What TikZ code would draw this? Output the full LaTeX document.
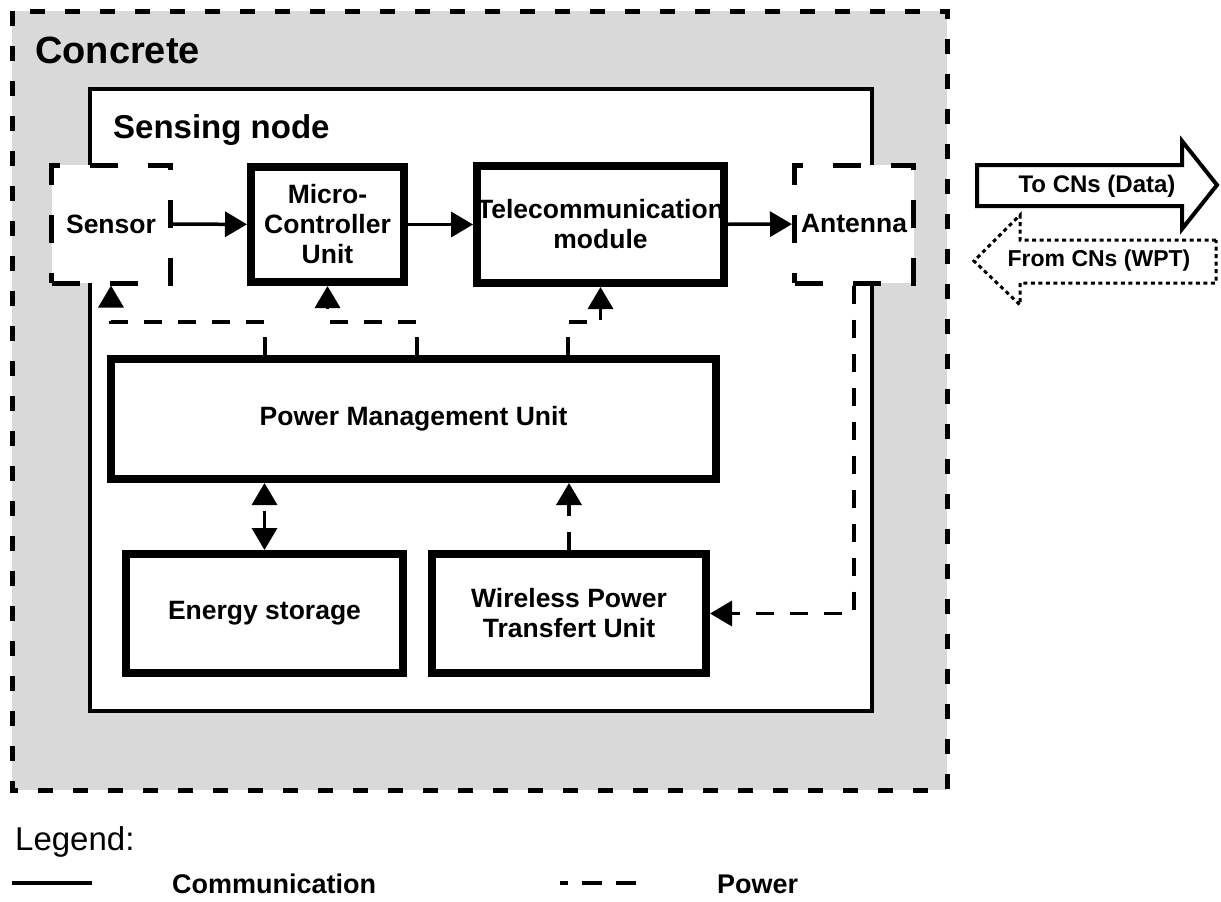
\documentclass[tikz,border=0pt]{standalone}
\usepackage{fontspec}
\setmainfont{Liberation Sans}
\usetikzlibrary{arrows.meta}
\definecolor{concrete}{RGB}{217,217,217}
\newcommand{\boxfont}{\fontsize{26.5}{30}\selectfont\bfseries}

\begin{document}
\begin{tikzpicture}[x=1pt,y=-1pt,
    >={Triangle[length=22pt,width=25pt]},
    unit/.style={draw,fill=white,line width=8pt,inner sep=0pt,align=center,font=\boxfont},
    port/.style={draw,fill=white,line width=5pt,dash pattern=on 28pt off 30pt,inner sep=0pt,
        minimum width=119pt,minimum height=118pt,font=\boxfont},
    comm/.style={line width=3.5pt},
    power/.style={line width=3.5pt,dash pattern=on 18pt off 16pt}]
    \useasboundingbox (0,0) rectangle (1221,902);

    % concrete and sensing node
    \draw [fill=concrete,line width=5pt,dash pattern=on 15pt off 20pt] (12,11) rectangle (947,790);
    \node [anchor=base west,inner sep=0pt,font=\fontsize{38}{38}\selectfont\bfseries] (concretetxt) at (35,63) {Concrete};
    \draw [fill=white,line width=4pt] (90,89) rectangle (872,711);
    \node [anchor=base west,inner sep=0pt,font=\fontsize{33}{33}\selectfont\bfseries] (nodetxt) at (113,138) {Sensing node};

    \node [port] (sensor)  at (111,224) {Sensor};
    \node [port] (antenna) at (854,224) {Antenna};
    \node [unit,minimum width=153pt,minimum height=115pt] (mcu)  at (327.5,224.5) {Micro-\\Controller\\Unit};
    \node [unit,minimum width=237pt,minimum height=117pt] (tele) at (600.5,224.5) {Telecommunication\\module};
    \draw [line width=8pt] ([shift={(4pt,-4pt)}]tele.north west) rectangle ([shift={(-4pt,4pt)}]tele.south east);
    \node [unit,minimum width=605pt,minimum height=120pt] (pmu)     at (413.5,419)   {Power Management Unit};
    \node [unit,minimum width=277pt,minimum height=119pt] (storage) at (264.5,613.5) {Energy storage};
    \node [unit,minimum width=274pt,minimum height=119pt] (wpt)     at (569,613.5)   {Wireless Power\\Transfert Unit};

    % data
    \draw [comm,->] (sensor) -- (mcu);
    \draw [comm,->] (mcu) -- (tele);
    \draw [comm,->] (tele) -- (antenna);

    % power
    \coordinate (bus) at (0,322);
    \draw [power,->] (265,0 |- pmu.north) |- (sensor.south |- bus) -- (sensor.south);
    \draw [power,->] (417,0 |- pmu.north) |- (mcu.south |- bus) -- (mcu.south);
    \draw [power,->] (568,0 |- pmu.north) |- (tele.south |- bus) -- (tele.south);
    \draw [power,<->] (storage.north) -- (storage.north |- pmu.south);
    \draw [power,->] (wpt.north) -- (wpt.north |- pmu.south);
    \draw [power,->] (antenna.south) |- (wpt.east);

    % to and from the CNs
    \draw [line width=4pt] (977,165) -- (1182,165) -- (1182,141) -- (1217,185)
        -- (1182,229) -- (1182,206) -- (977,206) -- cycle;
    \node [font=\fontsize{24}{24}\selectfont\bfseries] (todata) at (1097,186) {To CNs (Data)};
    \draw [line width=3pt,dash pattern=on 4pt off 3.5pt] (1216,240) -- (1020,240) -- (1020,215) -- (974,261)
        -- (1020,305) -- (1020,283) -- (1216,283) -- cycle;
    \node [font=\fontsize{23}{23}\selectfont\bfseries] (fromwpt) at (1099,261) {From CNs (WPT)};

    % legend
    \node [anchor=base west,inner sep=0pt,font=\fontsize{33}{33}\selectfont] (legend) at (15,850) {Legend:};
    \draw [line width=4pt] (12,883) -- (92,883);
    \node [anchor=west,inner sep=0pt,font=\fontsize{27}{27}\selectfont\bfseries] (commtxt) at (172,884) {Communication};
    \draw [line width=3.5pt,dash pattern=on 20pt off 14pt,dash phase=12pt] (560,883) -- (637,883);
    \node [anchor=west,inner sep=0pt,font=\fontsize{27}{27}\selectfont\bfseries] (powertxt) at (717,884) {Power};
\end{tikzpicture}
\end{document}
